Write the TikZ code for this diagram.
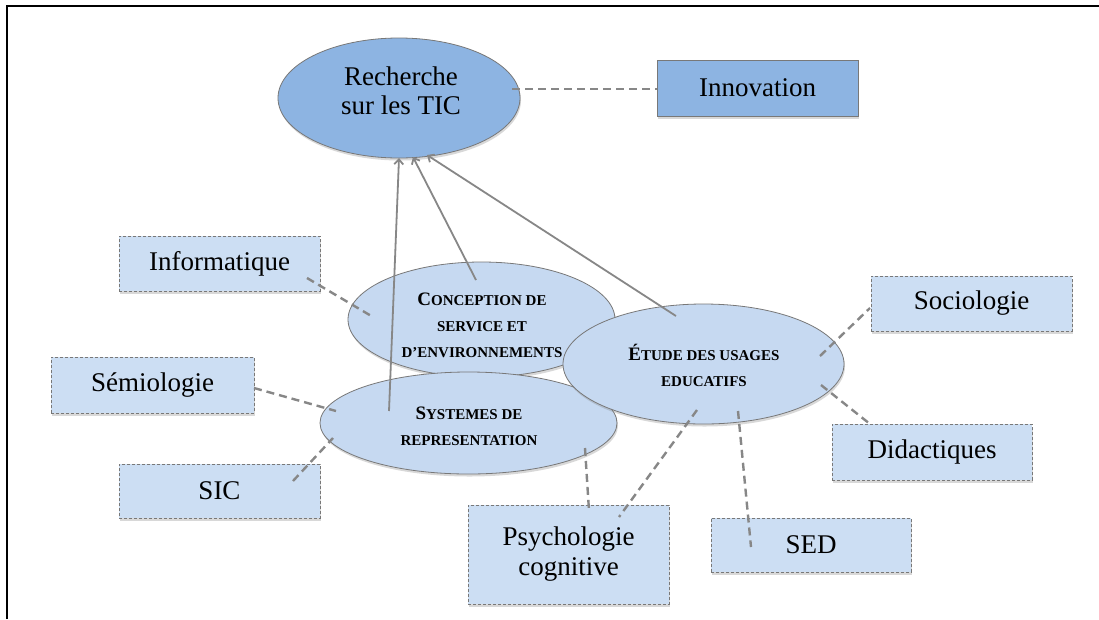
\documentclass[tikz,border=0pt]{standalone}
\usepackage{fontspec}
\setmainfont{Liberation Serif}
\usetikzlibrary{shapes.geometric,arrows.meta,shadows,calc}
\definecolor{darkfill}{RGB}{141,180,226}
\definecolor{lightfill}{RGB}{198,217,241}
\definecolor{boxfill}{RGB}{204,222,243}
\definecolor{edgegray}{RGB}{120,120,120}
\definecolor{conngray}{RGB}{135,135,135}
\newcommand{\scbig}[1]{{\fontsize{19}{25}\selectfont #1}}
\begin{document}
\begin{tikzpicture}[x=1pt,y=-1pt,
  shade/.style={drop shadow={shadow xshift=1pt,shadow yshift=-2.5pt,opacity=0.3,fill=black!50}},
  ell/.style={ellipse,draw=edgegray,line width=0.8pt,fill=lightfill,inner sep=0pt,shade},
  dbox/.style={rectangle,draw=edgegray,dash pattern=on 3pt off 2pt,line width=0.8pt,fill=boxfill,inner sep=0pt,
               minimum width=201pt,minimum height=55pt,align=center,font=\fontsize{27}{30}\selectfont,shade},
  mainlabel/.style={align=center,font=\fontsize{27}{29}\selectfont},
  sclabel/.style={align=center,font=\fontsize{15}{26}\selectfont\bfseries},
  arr/.style={draw=conngray,line width=1.8pt,-{Straight Barb[length=5pt,width=9pt]}},
  dline/.style={draw=conngray,line width=2.4pt,dash pattern=on 8pt off 5pt}]
\useasboundingbox (0,0) rectangle (1099,619);
\fill[white] (0,0) rectangle (1099,619);
% frame
\draw[line width=2.5pt,black] (7,619) -- (7,6) -- (1099,6);

% ellipses
\node[ell,fill=darkfill,minimum width=242pt,minimum height=120pt] (rech) at (399,98) {};
\node[ell,minimum width=267pt,minimum height=115pt] (conc) at (481.5,319.5) {};
\node[ell,minimum width=297pt,minimum height=102pt] (sys) at (468.5,423) {};
\node[ell,minimum width=281pt,minimum height=120pt] (etude) at (703.5,364) {};

% ellipse labels
\node[mainlabel] (rechT) at (401,91) {Recherche\\sur les TIC};
\node[sclabel] (concT) at (482,325) {\scbig{C}ONCEPTION DE\\SERVICE ET\\D’ENVIRONNEMENTS};
\node[sclabel] (sysT) at (469,426) {\scbig{S}YSTEMES DE\\REPRESENTATION};
\node[sclabel] (etudeT) at (704,365) {\scbig{É}TUDE DES USAGES\\EDUCATIFS};

% boxes
\node[rectangle,draw=edgegray,line width=0.8pt,fill=darkfill,minimum width=201pt,minimum height=56pt,
      font=\fontsize{27}{30}\selectfont,inner sep=0pt,shade] (innov) at (757.5,88) {Innovation};
\node[dbox] (info) at (219.5,263.5) {Informatique};
\node[dbox,minimum width=203pt,minimum height=56pt] (semio) at (152.5,385) {Sémiologie};
\node[dbox,minimum height=54pt] (sic) at (219.5,491) {SIC};
\node[dbox,minimum height=99pt] (psy) at (568.5,554.5) {Psychologie\\cognitive};
\node[dbox,minimum width=200pt,minimum height=54pt] (sed) at (811,545) {SED};
\node[dbox] (socio) at (971.5,303.5) {Sociologie};
\node[dbox,minimum width=200pt,minimum height=56pt] (didac) at (932,452) {Didactiques};

% connector end points inside the ellipses
\coordinate (a1) at (389,411);
\coordinate (a2) at (476,280);
\coordinate (a3) at (676,316);
\coordinate (r1) at (399,158);
\coordinate (r2) at (413,157);
\coordinate (r3) at (427,155);
\coordinate (d1) at (512,89);
\coordinate (d2a) at (307,278);
\coordinate (d2b) at (373,317);
\coordinate (d3a) at (254,388);
\coordinate (d3b) at (336,411);
\coordinate (d4a) at (293,481);
\coordinate (d4b) at (333,438);
\coordinate (d5a) at (585,448);
\coordinate (d5b) at (589,511);
\coordinate (d6a) at (697,410);
\coordinate (d6b) at (619,517);
\coordinate (d7a) at (738,411);
\coordinate (d7b) at (751,547);
\coordinate (d8a) at (820,356);
\coordinate (d8b) at (870,308);
\coordinate (d9a) at (821,385);
\coordinate (d9b) at (870,424);

% dashed connectors
\draw[dline] (d1) -- (d1 -| innov.west);
\draw[dline] (d2a) -- (d2b);
\draw[dline] (d3a) -- (d3b);
\draw[dline] (d4a) -- (d4b);
\draw[dline] (d5a) -- (d5b);
\draw[dline] (d6a) -- (d6b);
\draw[dline] (d7a) -- (d7b);
\draw[dline] (d8a) -- (d8b);
\draw[dline] (d9a) -- (d9b);

% arrows to Recherche
\draw[arr] (a1) -- (r1);
\draw[arr] (a2) -- (r2);
\draw[arr] (a3) -- (r3);
\end{tikzpicture}
\end{document}
